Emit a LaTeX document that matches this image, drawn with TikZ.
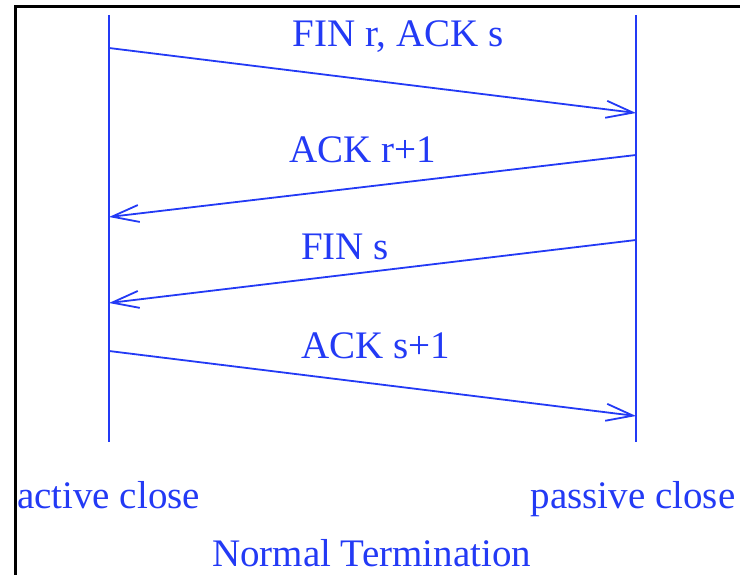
\documentclass[tikz,border=0pt]{standalone}
\usepackage{fontspec}
\setmainfont{Liberation Serif}
\usetikzlibrary{arrows.meta}
\definecolor{msgblue}{RGB}{35,58,245}
\tikzset{
  lifeline/.style={draw=msgblue, line width=2pt},
  msg/.style={draw=msgblue, line width=1.8pt, -{Straight Barb[length=27pt,width=17pt,line width=1.8pt]}},
  lbl/.style={text=msgblue, anchor=base, inner sep=0pt, font=\fontsize{39}{46}\selectfont},
  frameline/.style={draw=black, line width=3.5pt}
}
\begin{document}
\begin{tikzpicture}[x=1pt,y=-1pt]
  \useasboundingbox (0,0) rectangle (740,575);
  % outer frame (top and left edges)
  \coordinate (fr-bl) at (15.5,580);
  \coordinate (fr-tl) at (15.5,6.5);
  \coordinate (fr-tr) at (745,6.5);
  \draw[frameline] (fr-bl) -- (fr-tl) -- (fr-tr);
  % lifelines
  \coordinate (act-top) at (109,15);
  \coordinate (act-bot) at (109,442);
  \coordinate (pas-top) at (636,15);
  \coordinate (pas-bot) at (636,442);
  \draw[lifeline] (act-top) -- (act-bot);
  \draw[lifeline] (pas-top) -- (pas-bot);
  % message end points
  \coordinate (m1s) at (109,48);  \coordinate (m1e) at (636,113);
  \coordinate (m2s) at (636,155); \coordinate (m2e) at (109,217);
  \coordinate (m3s) at (636,240); \coordinate (m3e) at (109,303);
  \coordinate (m4s) at (109,351); \coordinate (m4e) at (636,416);
  \draw[msg] (m1s) -- (m1e);
  \draw[msg] (m2s) -- (m2e);
  \draw[msg] (m3s) -- (m3e);
  \draw[msg] (m4s) -- (m4e);
  % message labels
  \node[lbl] (l1) at (398,47) {FIN r, ACK s};
  \node[lbl] (l2) at (362.5,163) {ACK r+1};
  \node[lbl] (l3) at (345,260) {FIN s};
  \node[lbl] (l4) at (376,358) {ACK s+1};
  % endpoint names and caption
  \node[lbl] (act) at (108.5,508) {active close};
  \node[lbl] (pas) at (633,508) {passive close};
  \node[lbl] (cap) at (371.5,566) {Normal Termination};
\end{tikzpicture}
\end{document}
